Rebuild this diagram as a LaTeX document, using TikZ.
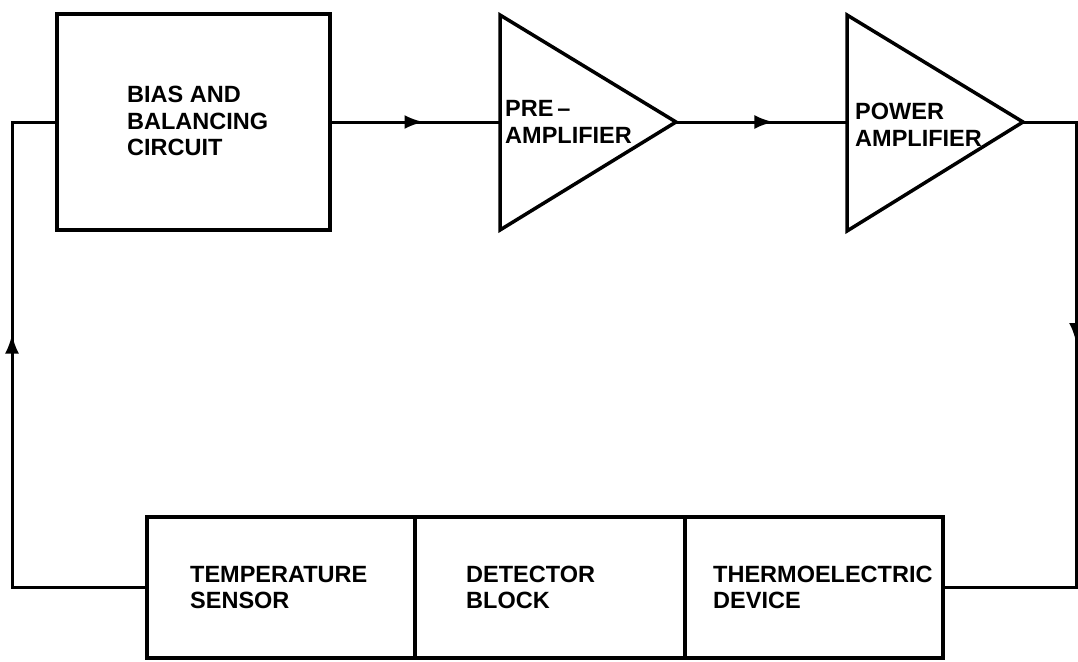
\documentclass[tikz,border=0pt]{standalone}
\usepackage{fontspec}
\setmainfont{Liberation Sans}
\usetikzlibrary{arrows.meta, positioning, decorations.markings}

\begin{document}
\begin{tikzpicture}[
  x=1pt, y=-1pt,
  font=\bfseries\fontsize{23.5}{26.5}\selectfont,
  >={Latex[length=19pt, width=14pt]},
  block/.style={draw=black, line width=3.5pt, inner sep=0pt, outer sep=0pt},
  wire/.style={draw=black, line width=3pt},
  midarrow/.style={wire, postaction={decorate},
    decoration={markings, mark=at position #1 with {\arrow{>}}}},
  txt/.style={anchor=west, align=left, inner sep=0pt} % texte cale a gauche
]
  \useasboundingbox (0,0) rectangle (1078,661);

  % --- Chaine directe (haut) ---
  \node[block, minimum width=273pt, minimum height=216pt] (bias) at (193.5,122) {};
  \node[txt] (biastxt) at (127,121) {BIAS AND\\BALANCING\\CIRCUIT};

  \coordinate (pre-in) at (500,122);
  \coordinate (pre-out) at (676,122);
  \draw[block] (500,15) -- (pre-out) -- (500,230) -- cycle;
  \node[txt] (pretxt) at (505,122) {PRE\,--\\AMPLIFIER};

  \coordinate (power-in) at (847,122);
  \coordinate (power-out) at (1023,122);
  \draw[block] (847,15) -- (power-out) -- (847,231) -- cycle;
  \node[txt] (powertxt) at (855,125) {POWER\\AMPLIFIER};

  % --- Bloc detecteur (bas) ---
  \node[block, minimum width=268pt, minimum height=141pt] (sensor) at (281,587.5) {};
  \node[block, minimum width=270pt, minimum height=141pt, right=0pt of sensor] (detector) {};
  \node[block, minimum width=258pt, minimum height=141pt, right=0pt of detector] (thermo) {};
  \node[txt] (sensortxt) at ([xshift=43pt]sensor.west) {TEMPERATURE\\SENSOR};
  \node[txt] (detectortxt) at ([xshift=51pt]detector.west) {DETECTOR\\BLOCK};
  \node[txt] (thermotxt) at ([xshift=28pt]thermo.west) {THERMOELECTRIC\\DEVICE};

  % --- Liaisons ---
  \coordinate (ne) at (1076,122);
  \coordinate (nw) at (12,122);
  \draw[midarrow=0.55] (bias.east) -- (pre-in);
  \draw[midarrow=0.57] (pre-out) -- (power-in);
  \draw[midarrow=273pt] (power-out) -- (ne) |- (thermo.east);
  \draw[midarrow=388pt] (sensor.west) -| (nw) -- (bias.west);

\end{tikzpicture}
\end{document}
